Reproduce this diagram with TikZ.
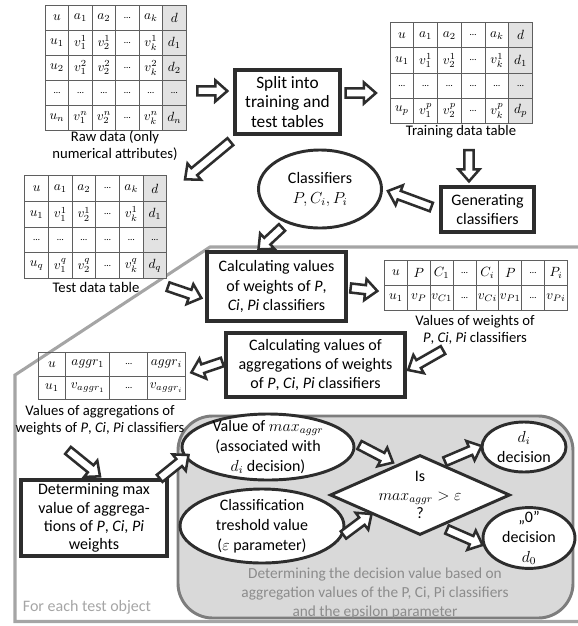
\documentclass[tikz,border=0pt]{standalone}
\usepackage{amsmath}
\usepackage{fontspec}
\setmainfont{Carlito}
\usetikzlibrary{shapes.geometric,matrix,calc}

\definecolor{inkdark}{RGB}{45,45,45}
\definecolor{gridgray}{RGB}{95,95,95}
\definecolor{cellgray}{RGB}{226,226,226}
\definecolor{loopgray}{RGB}{165,165,165}
\definecolor{zonefill}{RGB}{217,217,217}
\definecolor{zoneline}{RGB}{125,125,125}
\definecolor{zonetext}{RGB}{140,140,140}

\newcommand{\celldots}{\text{\fontsize{7}{7}\selectfont\ldots}}

% hollow block arrow between two points
\newcommand{\blockarrow}[2]{%
  \path (#1) coordinate (ba-s) (#2) coordinate (ba-e);
  \pgfmathanglebetweenpoints{\pgfpointanchor{ba-s}{center}}{\pgfpointanchor{ba-e}{center}}%
  \let\baang\pgfmathresult
  \pgfpointdiff{\pgfpointanchor{ba-s}{center}}{\pgfpointanchor{ba-e}{center}}%
  \pgfgetlastxy{\badx}{\bady}%
  \pgfmathsetmacro{\balen}{veclen(\badx,\bady)}%
  \pgfmathsetmacro{\baneck}{\balen-9}%
  \draw[blockarr, shift={(ba-s)}, rotate=\baang]
    (0pt,-3.4pt) -- (\baneck pt,-3.4pt) -- (\baneck pt,-7.9pt) -- (\balen pt,0pt)
    -- (\baneck pt,7.9pt) -- (\baneck pt,3.4pt) -- (0pt,3.4pt) -- cycle;
}

\tikzset{
  procbox/.style={draw=inkdark, line width=2.5pt, fill=white, align=center, inner sep=0pt,
    font=\fontsize{12}{14.3}\selectfont},
  infoell/.style={ellipse, draw=inkdark, line width=2.2pt, fill=white, align=center, inner sep=-4pt,
    font=\fontsize{12}{15}\selectfont},
  decision/.style={diamond, draw=inkdark, line width=2.2pt, fill=white, align=center, inner sep=-6pt,
    shape aspect=2.25, font=\fontsize{12}{14}\selectfont},
  tbl/.style={matrix of math nodes, column sep=-0.75pt, row sep=-0.75pt,
    nodes={draw=gridgray, line width=0.75pt, inner sep=0pt, anchor=center,
      font=\fontsize{10}{11}\selectfont}},
  caption/.style={align=center, font=\fontsize{11}{12.5}\selectfont},
  blockarr/.style={draw=inkdark, line width=1.9pt, fill=white},
}

\begin{document}
\begin{tikzpicture}[x=0.75pt,y=-0.75pt]
  \useasboundingbox (0,0) rectangle (578,626);

  % test object loop frame
  \draw[loopgray, line width=2.3pt] (578,247) -- (210,247) -- (15,375) -- (15,621.5) -- (578,621.5);
  \node[text=loopgray, font=\fontsize{12}{13}\selectfont] (looplbl) at (87,607) {For each test object};

  % decision zone
  \draw[draw=zoneline, fill=zonefill, line width=2.2pt, rounded corners=26pt] (178,416) rectangle (573,618);
  \node[caption, text=zonetext, font=\fontsize{11.5}{14.3}\selectfont] (zonelbl) at (375,593)
    {Determining the decision value based on\\aggregation values of the P, Ci, Pi classifiers\\and the epsilon parameter};

  % tables
  \matrix (raw) [tbl, nodes={minimum width=17.6pt, minimum height=18.75pt},
    column 6/.style={nodes={fill=cellgray}}] at (115.7,67.8) {
    u & a_1 & a_2 & \celldots & a_k & d \\
    u_1 & v_1^1 & v_2^1 & \celldots & v_k^1 & d_1 \\
    u_2 & v_1^2 & v_2^2 & \celldots & v_k^2 & d_2 \\
    \celldots & \celldots & \celldots & \celldots & \celldots & \celldots \\
    u_n & v_1^n & v_2^n & \celldots & v_k^n & d_n \\
  };
  \node[caption] (rawcap) at (115,145.5) {Raw data (only\\numerical attributes)};

  \matrix (train) [tbl, nodes={minimum width=17.8pt, minimum height=18.9pt},
    column 6/.style={nodes={fill=cellgray}}] at (461.3,73) {
    u & a_1 & a_2 & \celldots & a_k & d \\
    u_1 & v_1^1 & v_2^1 & \celldots & v_k^1 & d_1 \\
    \celldots & \celldots & \celldots & \celldots & \celldots & \celldots \\
    u_p & v_1^p & v_2^p & \celldots & v_k^p & d_p \\
  };
  \node[caption] (traincap) at (461,132) {Training data table};

  \matrix (test) [tbl, nodes={minimum width=17.75pt, minimum height=19.3pt},
    column 6/.style={nodes={fill=cellgray}}] at (95.8,227) {
    u & a_1 & a_2 & \celldots & a_k & d \\
    u_1 & v_1^1 & v_2^1 & \celldots & v_k^1 & d_1 \\
    \celldots & \celldots & \celldots & \celldots & \celldots & \celldots \\
    u_q & v_1^q & v_2^q & \celldots & v_k^q & d_q \\
  };
  \node[caption] (testcap) at (96,287) {Test data table};

  \matrix (weights) [tbl, nodes={minimum width=17.15pt, minimum height=18.75pt}] at (476,285.5) {
    u & P & C_1 & \celldots & C_i & P & \celldots & P_i \\
    u_1 & v_P & v_{C1} & \celldots & v_{Ci} & v_{P1} & \celldots & v_{Pi} \\
  };
  \node[caption] (wcap) at (475,330) {Values of weights of\\\textit{P}, \textit{Ci}, \textit{Pi} classifiers};

  \matrix (aggr) [tbl, nodes={minimum height=17.6pt},
    column 1/.style={nodes={minimum width=20.6pt}},
    column 2/.style={nodes={minimum width=33.2pt}},
    column 3/.style={nodes={minimum width=28.2pt}},
    column 4/.style={nodes={minimum width=28.2pt}}] at (111.7,376) {
    u & aggr_1 & \celldots & aggr_i \\
    u_1 & v_{aggr_1} & \celldots & v_{aggr_i} \\
  };
  \node[caption] (aggcap) at (100,420) {Values of aggregations of\\weights of \textit{P}, \textit{Ci}, \textit{Pi} classifiers};

  % process boxes
  \node[procbox, minimum width=78.75pt, minimum height=48pt, font=\fontsize{13}{14.6}\selectfont] (split) at (287.5,102)
    {Split into\\training and\\test tables};
  \node[procbox, minimum width=69.75pt, minimum height=33.75pt] (gen) at (487.5,209.5)
    {Generating\\classifiers};
  \node[procbox, minimum width=104.25pt, minimum height=51.75pt] (calcw) at (276.5,286.5)
    {Calculating values\\of weights of \textit{P},\\\textit{Ci}, \textit{Pi} classifiers};
  \node[procbox, minimum width=134.25pt, minimum height=48pt] (calcagg) at (315.5,365)
    {Calculating values of\\aggregations of weights\\of \textit{P}, \textit{Ci}, \textit{Pi} classifiers};
  \node[procbox, minimum width=109.5pt, minimum height=57pt, font=\fontsize{12}{13.7}\selectfont] (detmax) at (94,518)
    {Determining max\\value of aggrega-\\tions of \textit{P}, \textit{Ci}, \textit{Pi}\\weights};

  % ellipses and decision
  \node[infoell, minimum width=92.25pt, minimum height=58.5pt] (classif) at (320,189)
    {Classifiers\\$P, C_i, P_i$};
  \node[infoell, minimum width=129pt, minimum height=49.5pt] (maxval) at (268,447)
    {Value of $max_{aggr}$\\(associated with\\$d_i$ decision)};
  \node[infoell, minimum width=123pt, minimum height=55.5pt] (thresh) at (262,526)
    {Classification\\treshold value\\($\varepsilon$ parameter)};
  \node[decision, minimum width=135pt, minimum height=60pt] (isbig) at (420,495)
    {Is\\$max_{aggr} > \varepsilon$\\?};
  \node[infoell, minimum width=63pt, minimum height=37.5pt] (deci) at (524,447)
    {$d_i$\\decision};
  \node[infoell, minimum width=69pt, minimum height=39pt] (dzero) at (529,538)
    {„0”\\decision\\$d_0$};

  % block arrows
  \blockarrow{$(raw.east)+(6,23)$}{$(split.west)+(-6,-11)$}
  \blockarrow{$(split.east)+(4,-9)$}{$(train.west)+(-9,20)$}
  \blockarrow{$(traincap.south)+(8,7)$}{$(gen.north)+(-18.5,-4)$}
  \blockarrow{$(gen.west)+(-8,-2.5)$}{$(classif.east)+(5,2)$}
  \blockarrow{$(split.south west)+(-3,6)$}{$(test.north east)+(13,9)$}
  \blockarrow{$(classif.south)+(-38,-2)$}{$(calcw.north)+(-18,-1)$}
  \blockarrow{$(test.south east)+(-4,3)$}{$(calcw.west)+(-4,11.5)$}
  \blockarrow{$(calcw.east)+(3,1.5)$}{$(weights.west)+(-2,5.5)$}
  \blockarrow{$(wcap.south)+(-32,1)$}{$(calcagg.east)+(1.5,5)$}
  \blockarrow{$(calcagg.west)+(-2,-3)$}{$(aggr.east)+(1,-3.5)$}
  \blockarrow{$(aggcap.south)+(-32,11)$}{$(detmax.north)+(6,-2)$}
  \blockarrow{$(detmax.north east)+(-9,0)$}{$(maxval.west)+(8,8)$}
  \blockarrow{$(maxval.east)+(4,-2)$}{$(isbig.north)+(-27,9)$}
  \blockarrow{$(thresh.east)+(-2,9)$}{$(isbig.west)+(43,19)$}
  \blockarrow{$(isbig.north)+(25,8)$}{$(deci.west)+(1,-1)$}
  \blockarrow{$(isbig.south)+(27,-7)$}{$(dzero.west)+(1,7)$}
\end{tikzpicture}
\end{document}
